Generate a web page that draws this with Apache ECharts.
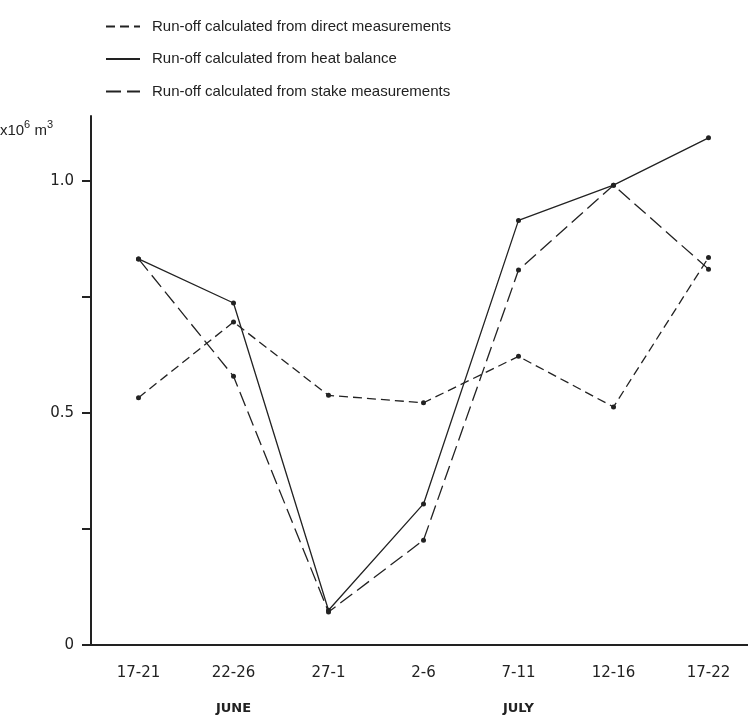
<!DOCTYPE html>
<html>
<head>
<meta charset="utf-8">
<script src="https://cdn.jsdelivr.net/npm/echarts@6/dist/echarts.min.js"></script>
<style>
  html, body { margin: 0; padding: 0; background: #fff; }
  #chart { width: 748px; height: 720px; }
</style>
</head>
<body>
<div id="chart"></div>
<script>
// periods (June 17 .. July 22)
var periods = ['17-21', '22-26', '27-1', '2-6', '7-11', '12-16', '17-22'];
var months = ['', 'JUNE', '', '', 'JULY', '', ''];

// run-off, x10^6 m3
var directRunoff = [0.533, 0.696, 0.538, 0.522, 0.622, 0.513, 0.835];
var heatRunoff   = [0.832, 0.737, 0.075, 0.304, 0.915, 0.991, 1.093];
var stakeRunoff  = [0.832, 0.579, 0.071, 0.226, 0.808, 0.991, 0.810];

var names = [
  'Run-off calculated from direct measurements',
  'Run-off calculated from heat balance',
  'Run-off calculated from stake measurements'
];

var ink = '#222';
var fontFam = '"Liberation Sans", Arial, sans-serif';
var tickFam = '"DejaVu Sans", sans-serif';

var mkSeries = function (name, data, dash) {
  return {
    name: name,
    type: 'line',
    data: data,
    symbol: 'circle',
    symbolSize: 5,
    itemStyle: { color: ink },
    lineStyle: { color: ink, width: 1.3, type: dash },
    emphasis: { disabled: true },
    animation: false
  };
};

var myChart = echarts.init(document.getElementById('chart'));
var option = {
  backgroundColor: '#fff',
  textStyle: { fontFamily: fontFam, color: ink },
  legend: {
    orient: 'vertical',
    left: 100,
    top: 14,
    itemWidth: 34,
    itemHeight: 14,
    itemGap: 17.5,
    itemStyle: { opacity: 0 },
    textStyle: { fontFamily: fontFam, fontSize: 15, color: ink, padding: [0, 0, 0, 7] },
    data: names,
    selectedMode: false
  },
  grid: { left: 91, right: -8, top: 116, bottom: 75, containLabel: false, outerBoundsMode: 'none' },
  xAxis: {
    type: 'category',
    data: periods,
    boundaryGap: true,
    axisLine: { lineStyle: { color: ink, width: 2 } },
    axisTick: { alignWithLabel: true, interval: 0, length: 9, lineStyle: { color: ink, width: 2 } },
    axisLabel: {
      interval: 0,
      hideOverlap: false,
      color: ink,
      fontFamily: tickFam,
      fontSize: 15,
      margin: 19,
      lineHeight: 18,
      formatter: function (v, i) {
        return months[i] ? v + '\n\n{m|' + months[i] + '}' : v;
      },
      rich: { m: { fontFamily: tickFam, fontSize: 13, fontWeight: 'bold', color: ink, lineHeight: 18 } }
    }
  },
  yAxis: {
    type: 'value',
    min: 0,
    max: 1.14,
    name: '{a|x10}{s|6}{a| m}{s|3}',
    nameLocation: 'end',
    nameGap: -3,
    nameTextStyle: {
      align: 'right',
      verticalAlign: 'top',
      padding: [0, 38, 0, 0],
      rich: {
        a: { fontFamily: fontFam, fontSize: 15, color: ink, verticalAlign: 'bottom' },
        s: { fontFamily: fontFam, fontSize: 11, color: ink, verticalAlign: 'top', padding: [0, 0, 8, 0] }
      }
    },
    splitLine: { show: false },
    axisLine: { show: true, lineStyle: { color: ink, width: 2 } },
    axisTick: { show: true, length: 9, customValues: [0, 0.25, 0.5, 0.75, 1.0], lineStyle: { color: ink, width: 2 } },
    axisLabel: {
      color: ink,
      fontFamily: tickFam,
      fontSize: 15,
      margin: 17,
      customValues: [0, 0.5, 1.0],
      formatter: function (v) { return v === 0 ? '0' : v.toFixed(1); }
    }
  },
  series: [
    mkSeries(names[0], directRunoff, [9, 5]),
    mkSeries(names[1], heatRunoff, 'solid'),
    mkSeries(names[2], stakeRunoff, [15, 6])
  ]
};
myChart.setOption(option);
</script>
</body>
</html>
